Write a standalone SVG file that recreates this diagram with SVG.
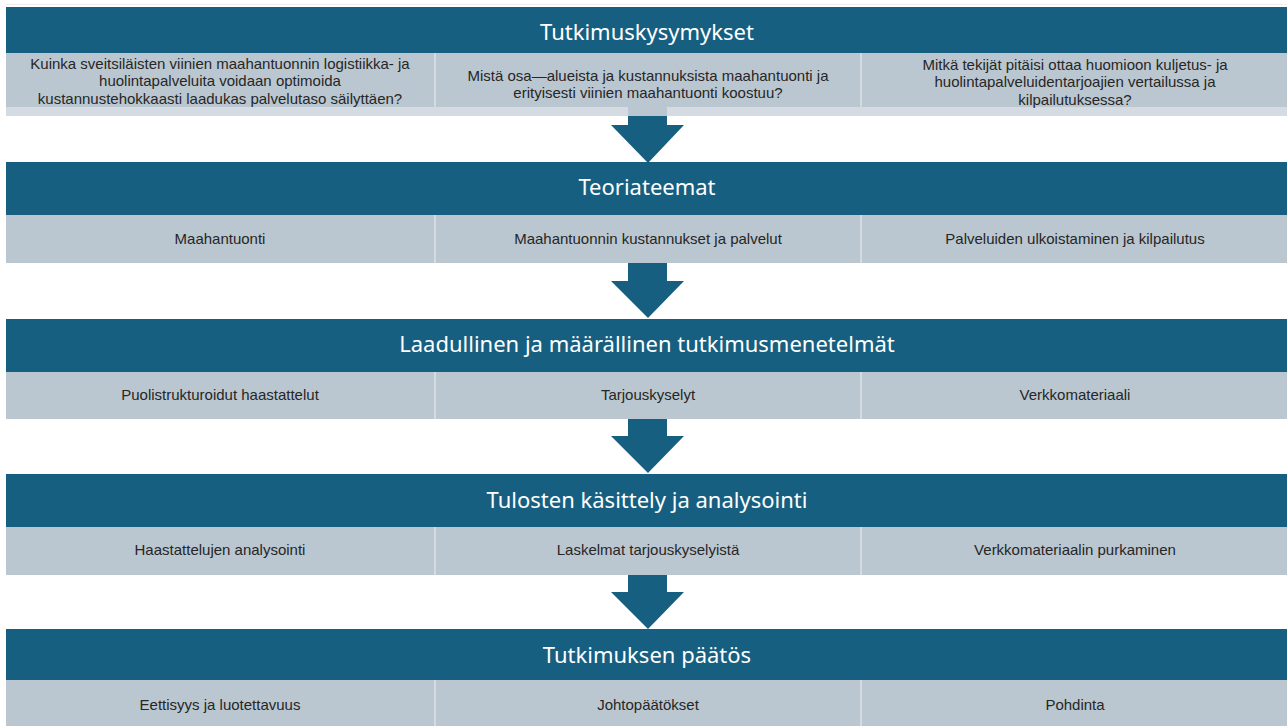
<svg xmlns="http://www.w3.org/2000/svg" width="1287" height="726" viewBox="0 0 1287 726">
<style>
.hdr{fill:#175F80}
.sub{fill:#BAC6D0}
.strip{fill:#D5DBE2}
.div{stroke:#D3DAE0;stroke-width:2}
.arrow{fill:#175F80}
.ht{font-family:"Noto Sans","Liberation Sans",sans-serif;font-size:22px;fill:#FFFFFF;text-anchor:middle}
.st{font-family:"Liberation Sans",Arial,sans-serif;font-size:15px;fill:#262626;text-anchor:middle}
</style>
<rect x="0" y="0" width="1287" height="726" fill="#FFFFFF"/>
<line x1="6" y1="4.5" x2="1287" y2="4.5" stroke="#ECEEF0" stroke-width="1.5"/>

<g id="section1">
  <rect class="hdr" x="6" y="7" width="1281" height="46"/>
  <text class="ht" x="647" y="40">Tutkimuskysymykset</text>
  <rect class="sub" x="6" y="53" width="1281" height="54"/>
  <rect class="strip" x="6" y="107" width="1281" height="9"/>
  <line class="div" x1="435" y1="53" x2="435" y2="116"/>
  <line class="div" x1="861" y1="53" x2="861" y2="116"/>
  <text class="st" x="220" y="68.5">Kuinka sveitsiläisten viinien maahantuonnin logistiikka- ja</text>
  <text class="st" x="220" y="86">huolintapalveluita voidaan optimoida</text>
  <text class="st" x="220" y="103.5">kustannustehokkaasti laadukas palvelutaso säilyttäen?</text>
  <text class="st" x="648" y="80.5">Mistä osa—alueista ja kustannuksista maahantuonti ja</text>
  <text class="st" x="648" y="98">erityisesti viinien maahantuonti koostuu?</text>
  <text class="st" x="1075" y="69.5">Mitkä tekijät pitäisi ottaa huomioon kuljetus- ja</text>
  <text class="st" x="1075" y="87">huolintapalveluidentarjoajien vertailussa ja</text>
  <text class="st" x="1075" y="104.5">kilpailutuksessa?</text>
</g>

<g id="section2">
  <rect class="hdr" x="6" y="162" width="1281" height="53"/>
  <text class="ht" x="647" y="195">Teoriateemat</text>
  <rect class="sub" x="6" y="215" width="1281" height="48"/>
  <line class="div" x1="435" y1="215" x2="435" y2="263"/>
  <line class="div" x1="861" y1="215" x2="861" y2="263"/>
  <text class="st" x="220" y="244">Maahantuonti</text>
  <text class="st" x="648" y="244">Maahantuonnin kustannukset ja palvelut</text>
  <text class="st" x="1075" y="244">Palveluiden ulkoistaminen ja kilpailutus</text>
</g>

<g id="section3">
  <rect class="hdr" x="6" y="319" width="1281" height="53"/>
  <text class="ht" x="647" y="352">Laadullinen ja määrällinen tutkimusmenetelmät</text>
  <rect class="sub" x="6" y="372" width="1281" height="47"/>
  <line class="div" x1="435" y1="372" x2="435" y2="419"/>
  <line class="div" x1="861" y1="372" x2="861" y2="419"/>
  <text class="st" x="220" y="400">Puolistrukturoidut haastattelut</text>
  <text class="st" x="648" y="400">Tarjouskyselyt</text>
  <text class="st" x="1075" y="400">Verkkomateriaali</text>
</g>

<g id="section4">
  <rect class="hdr" x="6" y="474" width="1281" height="53"/>
  <text class="ht" x="647" y="508">Tulosten käsittely ja analysointi</text>
  <rect class="sub" x="6" y="527" width="1281" height="48"/>
  <line class="div" x1="435" y1="527" x2="435" y2="575"/>
  <line class="div" x1="861" y1="527" x2="861" y2="575"/>
  <text class="st" x="220" y="555">Haastattelujen analysointi</text>
  <text class="st" x="648" y="555">Laskelmat tarjouskyselyistä</text>
  <text class="st" x="1075" y="555">Verkkomateriaalin purkaminen</text>
</g>

<g id="section5">
  <rect class="hdr" x="6" y="629" width="1281" height="51"/>
  <text class="ht" x="647" y="663">Tutkimuksen päätös</text>
  <rect class="sub" x="6" y="680" width="1281" height="46"/>
  <line class="div" x1="435" y1="680" x2="435" y2="726"/>
  <line class="div" x1="861" y1="680" x2="861" y2="726"/>
  <text class="st" x="220" y="710">Eettisyys ja luotettavuus</text>
  <text class="st" x="648" y="710">Johtopäätökset</text>
  <text class="st" x="1075" y="710">Pohdinta</text>
</g>

<g id="connectors">
  <rect x="628" y="107" width="39" height="9" fill="#BAC6D0"/>
  <polygon class="arrow" points="628,116 667,116 667,125 684,125 648,163 611,125 628,125"/>
  <polygon class="arrow" points="628,263 667,263 667,281 684,281 648,318 611,281 628,281"/>
  <polygon class="arrow" points="628,419 667,419 667,436 684,436 648,473 611,436 628,436"/>
  <polygon class="arrow" points="628,575 667,575 667,592 684,592 648,629 611,592 628,592"/>
</g>
</svg>
